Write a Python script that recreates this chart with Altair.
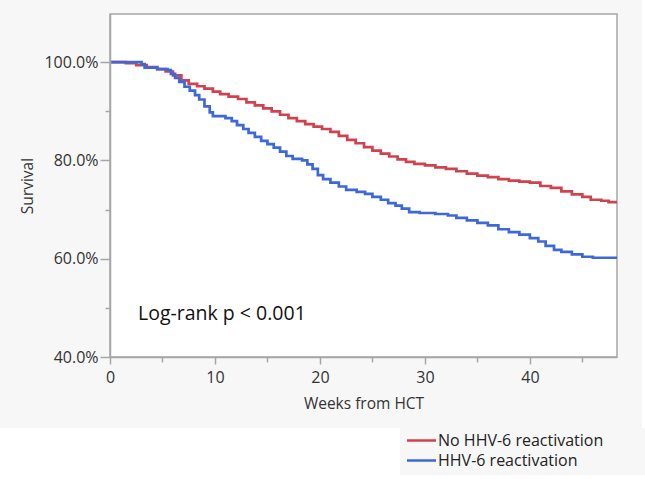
import altair as alt
import pandas as pd

# Kaplan-Meier estimates (weeks from HCT, survival %)
no_reac_weeks = [0, 1.5, 2.5, 3.5, 4.5, 5.3, 6.0, 6.8, 7.5, 8.3, 9.0, 9.8, 10.5, 11.3,
                 12.2, 13.0, 13.8, 14.6, 15.4, 16.2, 17.0, 17.8, 18.6, 19.4, 20.2, 21.0,
                 21.8, 22.6, 23.4, 24.2, 25.0, 25.8, 26.6, 27.4, 28.2, 29.0, 30.0, 31.0,
                 32.0, 33.0, 34.0, 35.0, 36.0, 37.0, 38.0, 39.0, 40.0, 41.0, 42.0, 43.0,
                 44.0, 45.0, 45.8, 46.8, 47.5, 48.3]
no_reac_surv = [100, 99.8, 99.4, 99.0, 98.6, 98.1, 97.3, 96.3, 95.6, 95.1, 94.6, 94.0, 93.5,
                93.0, 92.5, 91.8, 91.2, 90.6, 90.0, 89.3, 88.6, 88.0, 87.4, 86.9, 86.4, 85.8,
                85.0, 84.2, 83.5, 82.7, 82.0, 81.4, 80.8, 80.2, 79.7, 79.3, 79.0, 78.6,
                78.3, 77.8, 77.3, 76.9, 76.6, 76.2, 75.9, 75.7, 75.5, 74.8, 74.4, 73.7,
                73.1, 72.6, 72.0, 71.8, 71.5, 71.5]

reac_weeks = [0, 3.0, 3.3, 4.5, 5.5, 5.8, 6.2, 6.6, 7.1, 7.6, 8.1, 8.5, 9.0, 9.5, 9.8,
              11.0, 11.6, 12.1, 12.7, 13.2, 13.8, 14.4, 15.0, 15.6, 16.2, 16.8, 17.4,
              18.3, 18.8, 19.3, 19.8, 20.3, 21.0, 21.8, 22.5, 23.5, 24.3, 25.0, 25.8,
              26.5, 27.2, 27.8, 28.5, 29.5, 31.0, 32.2, 33.0, 34.0, 35.0, 36.0, 37.0,
              38.0, 39.0, 40.0, 40.8, 41.5, 42.3, 43.0, 44.0, 45.0, 46.0, 48.3]
reac_surv = [100, 99.6, 98.9, 98.6, 98.4, 97.6, 96.8, 96.0, 95.0, 94.2, 93.3, 92.4, 91.0,
             89.8, 89.0, 88.6, 88.0, 87.2, 86.4, 85.6, 84.8, 84.0, 83.3, 82.6, 81.8, 80.9,
             80.3, 80.0, 79.2, 78.3, 77.0, 76.2, 75.5, 74.7, 74.0, 73.6, 73.2, 72.6, 72.0,
             71.3, 70.8, 70.2, 69.5, 69.3, 69.1, 68.8, 68.3, 67.8, 67.3, 66.8, 66.0,
             65.4, 64.9, 64.2, 63.5, 62.6, 61.8, 61.4, 60.9, 60.4, 60.2, 60.2]

groups = ["No HHV-6 reactivation", "HHV-6 reactivation"]
colors = ["#d0424e", "#3d68d8"]

df = pd.concat([
    pd.DataFrame({"week": no_reac_weeks, "surv": no_reac_surv, "group": groups[0]}),
    pd.DataFrame({"week": reac_weeks, "surv": reac_surv, "group": groups[1]}),
])

FONT = "Open Sans"
W, H = 507, 343

x = alt.X("week:Q", scale=alt.Scale(domain=[0, 48.3], nice=False, zero=False),
          axis=alt.Axis(title="Weeks from HCT", values=[0, 5, 10, 15, 20, 25, 30, 35, 40, 45],
                        labelExpr="datum.value % 10 === 0 ? datum.label : ''",
                        grid=False, zindex=2, labelFlush=False,
                        tickSize={"condition": {"test": "datum.value % 10 === 0", "value": 7}, "value": 5},
                        labelPadding=5, titlePadding=11))
y = alt.Y("surv:Q", scale=alt.Scale(domain=[40, 109.8], nice=False, zero=False),
          axis=alt.Axis(title="Survival", values=[40, 50, 60, 70, 80, 90, 100],
                        labelExpr="datum.value % 20 === 0 ? format(datum.value, '.1f') + '%' : ''",
                        grid=False, zindex=2, labelFlush=False,
                        tickSize={"condition": {"test": "datum.value % 20 === 0", "value": 10}, "value": 5},
                        labelPadding=2, titlePadding=8))
# legend keys: a horizontal stroke wider than the nominal symbol box
color = alt.Color("group:N", scale=alt.Scale(domain=groups, range=colors),
                  legend=alt.Legend(title=None, orient="none", legendX=300, legendY=415,
                                    symbolType="M-1.45,0H1.45", symbolSize=400, symbolStrokeWidth=2.5,
                                    labelFontSize=16, labelFont=FONT, labelColor="#222222",
                                    labelLimit=400, labelOffset=5, rowPadding=0, padding=0))

# outer light-grey panel and plot frame
panel = alt.Chart().mark_rect(color="#f7f7f7").encode(
    x=alt.value(-110), x2=alt.value(532), y=alt.value(-14), y2=alt.value(414))
legend_box = alt.Chart().mark_rect(color="#f7f7f7").encode(
    x=alt.value(290), x2=alt.value(535), y=alt.value(414), y2=alt.value(461))
frame = alt.Chart().mark_rect(fill="white", stroke="#a6a6a6", strokeWidth=1.5).encode(
    x=alt.value(0), x2=alt.value(W), y=alt.value(0), y2=alt.value(H))

base = alt.Chart(df)
red = base.transform_filter(alt.datum.group == groups[0]).mark_line(
    interpolate="step-after", strokeWidth=2.7).encode(x=x, y=y, color=color)
blue = base.transform_filter(alt.datum.group == groups[1]).mark_line(
    interpolate="step-after", strokeWidth=2.7).encode(x=x, y=y, color=color)

note = alt.Chart().mark_text(text="Log-rank p < 0.001", font=FONT, fontSize=19.5,
                             align="left", baseline="middle", color="#111111").encode(
    x=alt.value(28), y=alt.value(300))

chart = alt.layer(panel, legend_box, frame, red, blue, note).properties(
    width=W, height=H,
    padding={"left": 110, "top": 14, "right": 28, "bottom": 122},
    autosize=alt.AutoSizeParams(type="none"),
    background="white",
).configure_view(stroke=None).configure_axis(
    domainColor="#a6a6a6", domainWidth=1.5, tickColor="#a6a6a6", tickWidth=1.5,
    labelFont=FONT, labelFontSize=16, labelColor="#333333",
    titleFont=FONT, titleFontSize=15.5, titleColor="#333333", titleFontWeight="normal",
)

chart.save("out.html", embed_options={"renderer": "svg", "actions": False})
